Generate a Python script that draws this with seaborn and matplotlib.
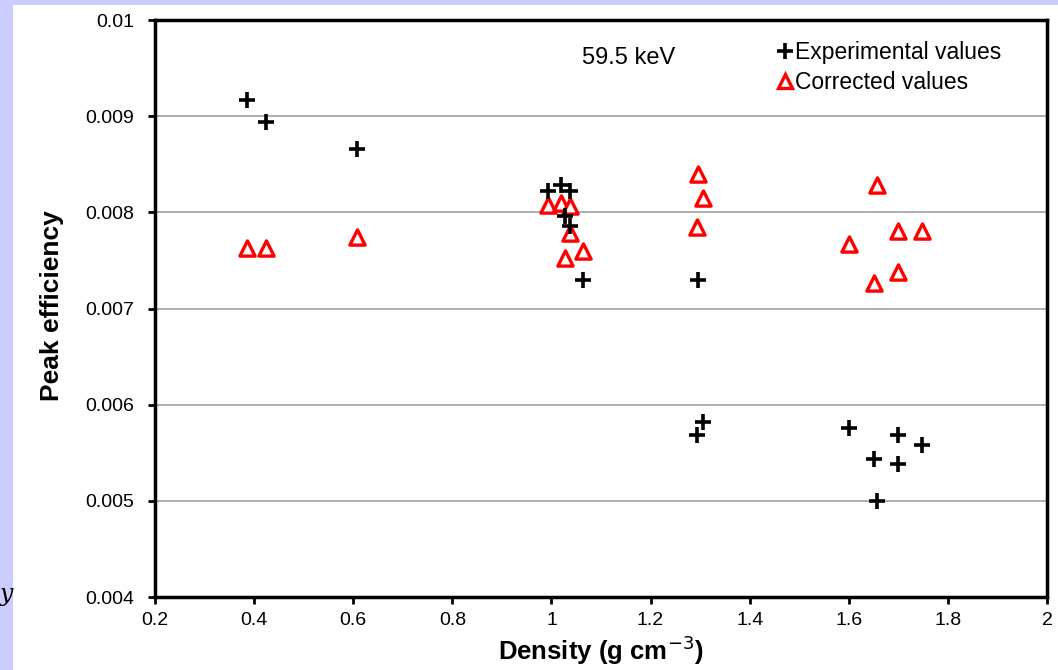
import matplotlib
matplotlib.use("Agg")
import matplotlib.pyplot as plt
import seaborn as sns
import pandas as pd
from matplotlib.patches import Rectangle
from matplotlib.lines import Line2D

# Data
exp_density = [0.386, 0.424, 0.608, 0.993, 1.019, 1.037, 1.027, 1.037, 1.064,
               1.296, 1.306, 1.294, 1.600, 1.651, 1.699, 1.699, 1.748, 1.657]
exp_eff = [0.00917, 0.00894, 0.00866, 0.00822, 0.00828, 0.00822, 0.00796, 0.00786, 0.00730,
           0.00730, 0.00582, 0.00568, 0.00576, 0.00543, 0.00568, 0.00538, 0.00558, 0.00500]
cor_density = [0.386, 0.424, 0.608, 0.993, 1.019, 1.037, 1.037, 1.027, 1.064,
               1.296, 1.306, 1.294, 1.600, 1.651, 1.657, 1.699, 1.699, 1.748]
cor_eff = [0.00763, 0.00763, 0.00774, 0.00808, 0.00810, 0.00807, 0.00778, 0.00753, 0.00760,
           0.00840, 0.00815, 0.00785, 0.00767, 0.00726, 0.00828, 0.00781, 0.00738, 0.00781]
x_ticks = [0.2, 0.4, 0.6, 0.8, 1.0, 1.2, 1.4, 1.6, 1.8, 2.0]
x_tick_labels = ["0.2", "0.4", "0.6", "0.8", "1", "1.2", "1.4", "1.6", "1.8", "2"]
y_ticks = [0.004, 0.005, 0.006, 0.007, 0.008, 0.009, 0.01]
y_tick_labels = ["0.004", "0.005", "0.006", "0.007", "0.008", "0.009", "0.01"]

sns.set_theme(style="white")
plt.rcParams['font.family'] = ['Liberation Sans', 'DejaVu Sans']
plt.rcParams['text.color'] = 'black'
plt.rcParams['axes.labelcolor'] = 'black'

fig = plt.figure(figsize=(10.58, 6.70), dpi=100)
fig.patch.set_facecolor("#ccccff")
# white slide region
fig.patches.append(Rectangle((13 / 1058, 0), 1, 1 - 5 / 670, transform=fig.transFigure,
                             facecolor="white", edgecolor="none", zorder=-5))

ax = fig.add_axes([155 / 1058, 1 - 597 / 670, 892 / 1058, 577 / 670])
ax.set_facecolor("white")

df_exp = pd.DataFrame({"x": exp_density, "y": exp_eff})
df_cor = pd.DataFrame({"x": cor_density, "y": cor_eff})

for yv in y_ticks[1:-1]:
    ax.axhline(yv, color="#a0a0a0", lw=1.2, zorder=0)

sns.scatterplot(data=df_cor, x="x", y="y", ax=ax, marker="^", s=120,
                facecolor="white", edgecolor="#ff0000", linewidth=2.4, zorder=3,
                label="Corrected values", legend=False)
sns.scatterplot(data=df_exp, x="x", y="y", ax=ax, marker="+", s=120,
                color="black", linewidth=2.6, zorder=4,
                label="Experimental values", legend=False)

ax.set_xlim(0.2, 2.0)
ax.set_ylim(0.004, 0.01)
ax.set_xticks(x_ticks)
ax.set_xticklabels(x_tick_labels)
ax.set_yticks(y_ticks)
ax.set_yticklabels(y_tick_labels)
ax.tick_params(axis="y", direction="out", length=5, width=2, colors="black",
               labelsize=14, pad=10, left=True)
ax.tick_params(axis="x", direction="out", length=5, width=2, colors="black",
               labelsize=14, pad=6, bottom=True)
for sp in ax.spines.values():
    sp.set_visible(True)
    sp.set_color("black")
    sp.set_linewidth(2.5)

ax.set_xlabel("Density (g cm$^{-3}$)", fontsize=18.5, fontweight="bold")
ax.set_ylabel("Peak efficiency", fontsize=19, fontweight="bold")
ax.xaxis.set_label_coords(0.5, -(650 - 597) / 577)
ax.yaxis.set_label_coords(-(155 - 52) / 892, (597 - 306) / 577)
ax.xaxis.label.set_va("center")
ax.yaxis.label.set_va("center")

ax.text((582 - 155) / 892, (597 - 58) / 577, "59.5 keV", transform=ax.transAxes,
        fontsize=17, ha="left", va="center", color="black")

handles = [Line2D([], [], marker="+", color="black", ls="none", ms=11, mew=2.6),
           Line2D([], [], marker="^", ls="none", mfc="white", mec="#ff0000", ms=10, mew=2.4)]
leg = ax.legend(handles, ["Experimental values", "Corrected values"], loc="upper left",
                bbox_to_anchor=((778 - 155) / 892, (597 - 41) / 577), frameon=False,
                fontsize=16.5, handlelength=0.6, handletextpad=0.15, labelspacing=0.3,
                borderpad=0, borderaxespad=0)
for t in leg.get_texts():
    t.set_color("black")

fig.text(0.0, 1 - 595 / 670, "y", fontsize=17, fontstyle="italic",
         family="DejaVu Serif", ha="left", va="center", color="black")

fig.savefig("out.png", dpi=100, facecolor=fig.get_facecolor())
